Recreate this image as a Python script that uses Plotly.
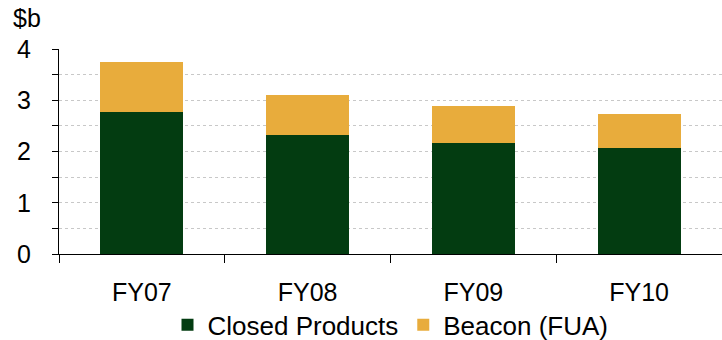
import plotly.graph_objects as go

# Fiscal years and stacked values ($b)
years = ["FY07", "FY08", "FY09", "FY10"]
closed_products = [2.77, 2.32, 2.17, 2.07]
beacon_fua = [0.97, 0.79, 0.72, 0.67]

y_tick_vals = [0, 0.5, 1, 1.5, 2, 2.5, 3, 3.5, 4]
y_tick_text = ["0", "", "1", "", "2", "", "3", "", "4"]

GREEN = "#033C11"
ORANGE = "#E8AC3C"
FONT = "Liberation Sans, Arial, sans-serif"

fig = go.Figure()
fig.add_trace(go.Bar(
    x=years, y=closed_products, name="Closed Products",
    marker=dict(color=GREEN, line=dict(width=0)), width=0.5,
))
fig.add_trace(go.Bar(
    x=years, y=beacon_fua, name="Beacon (FUA)",
    marker=dict(color=ORANGE, line=dict(width=0)), width=0.5,
))

fig.update_layout(
    barmode="stack",
    width=722, height=340,
    margin=dict(l=59, r=0, t=49, b=86, autoexpand=False),
    paper_bgcolor="white", plot_bgcolor="white",
    font=dict(family=FONT, size=25, color="black"),
    showlegend=True,
    legend=dict(
        orientation="h", x=0.5, xanchor="center", y=-0.345, yanchor="middle",
        font=dict(size=26), itemwidth=30, traceorder="normal",
    ),
    xaxis=dict(
        type="category", range=[-0.5, 3.5], automargin=False,
        showline=True, linecolor="black", linewidth=1,
        ticks="outside", ticklen=8, tickcolor="black", tickson="boundaries",
        showgrid=False, ticklabelstandoff=16,
        tickfont=dict(size=25),
    ),
    yaxis=dict(
        range=[0, 4], tickmode="array", tickvals=y_tick_vals, ticktext=y_tick_text,
        automargin=False,
        showline=True, linecolor="black", linewidth=1,
        ticks="outside", ticklen=6, tickcolor="black",
        showgrid=True, gridcolor="#C8C8C8", griddash="dot", gridwidth=1,
        zeroline=False, ticklabelstandoff=16,
        tickfont=dict(size=25),
    ),
    annotations=[dict(
        text="$b", xref="paper", yref="paper",
        x=(11 - 59) / 663, y=1 + (49 - 18) / 205,
        xanchor="left", yanchor="middle", showarrow=False,
        font=dict(size=25, family=FONT),
    )],
)

fig.write_html("out.html")
